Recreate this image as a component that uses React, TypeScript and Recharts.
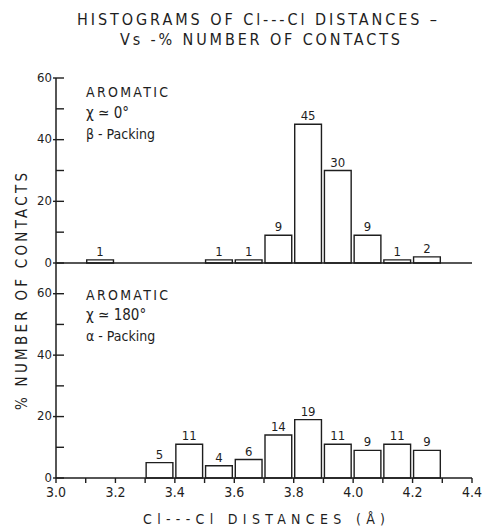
import { BarChart, Bar, XAxis, YAxis, LabelList } from "recharts";

const topBins = [3.15, 3.55, 3.65, 3.75, 3.85, 3.95, 4.05, 4.15, 4.25];
const topPercent = [1, 1, 1, 9, 45, 30, 9, 1, 2];

const bottomBins = [3.35, 3.45, 3.55, 3.65, 3.75, 3.85, 3.95, 4.05, 4.15, 4.25];
const bottomPercent = [5, 11, 4, 6, 14, 19, 11, 9, 11, 9];

const distanceTicks = [3.0, 3.1, 3.2, 3.3, 3.4, 3.5, 3.6, 3.7, 3.8, 3.9, 4.0, 4.1, 4.2, 4.3, 4.4];
const percentTicks = [0, 10, 20, 30, 40, 50, 60];
const percentLabels = [0, 20, 40, 60];

const topData = topBins.map((x, i) => ({ x, pct: topPercent[i] }));
const bottomData = bottomBins.map((x, i) => ({ x, pct: bottomPercent[i] }));

const FONT = "'DejaVu Sans Condensed', 'DejaVu Sans', sans-serif";
const INK = "#1e1e1e";
const BAR_W = (416 * 0.1) / 1.4;

function PercentTick(props: any) {
  const { x, y, payload } = props;
  const major = percentLabels.includes(payload.value);
  return (
    <g>
      <line x1={major ? x - 3 : x} x2={x + 8} y1={y} y2={y} stroke={INK} strokeWidth={1.4} />
      {major && (
        <text x={x - 4} y={y} dy="0.28em" textAnchor="end" fontSize={13} fill={INK} fontFamily={FONT}>
          {payload.value}
        </text>
      )}
    </g>
  );
}

const distLabel = (v: number) => (Math.round(v * 10) % 2 === 0 ? v.toFixed(1) : "");

function Panel({ data, height, domainMax, showLabels, top }: any) {
  return (
    <div style={{ position: "absolute", left: 0, top }}>
      <BarChart
        width={485}
        height={height}
        data={data}
        margin={{ top: top === 0 ? 78 : 0, right: 13, bottom: showLabels ? 22 : 0, left: 0 }}
      >
        <XAxis
          dataKey="x"
          type="number"
          domain={[3.0, 4.4]}
          ticks={distanceTicks}
          interval={0}
          height={showLabels ? 29 : 7}
          tickSize={5}
          tickMargin={4}
          tick={showLabels ? { fontSize: 14, fill: INK, fontFamily: FONT } : false}
          tickFormatter={distLabel}
          stroke={INK}
          axisLine={{ stroke: INK, strokeWidth: 1.5 }}
          tickLine={{ stroke: INK, strokeWidth: 1.4 }}
        />
        {top === 0 && (
          <XAxis
            xAxisId="frame"
            orientation="top"
            type="number"
            domain={[3.0, 4.4]}
            height={0}
            tick={false}
            tickLine={false}
            axisLine={{ stroke: INK, strokeWidth: 1.5 }}
          />
        )}
        <YAxis
          type="number"
          domain={[0, domainMax]}
          ticks={percentTicks}
          interval={0}
          width={56}
          tickSize={0}
          tickMargin={0}
          tick={<PercentTick />}
          axisLine={{ stroke: INK, strokeWidth: 1.5 }}
          tickLine={false}
        />
        <YAxis
          yAxisId="frame"
          orientation="right"
          width={0}
          tick={false}
          tickLine={false}
          axisLine={{ stroke: INK, strokeWidth: 1.5 }}
        />
        <Bar dataKey="pct" barSize={BAR_W} fill="#fff" stroke={INK} strokeWidth={1.4} isAnimationActive={false}>
          <LabelList dataKey="pct" position="top" offset={4} fontSize={13} fill={INK} fontFamily={FONT} />
        </Bar>
      </BarChart>
    </div>
  );
}

export default function App() {
  const t = { fontFamily: FONT, fill: INK };
  return (
    <div style={{ position: "absolute", left: 0, top: 0, width: 485, height: 529, background: "#fff" }}>
      <Panel data={topData} height={270} domainMax={60} showLabels={false} top={0} />
      <Panel data={bottomData} height={266} domainMax={70} showLabels={true} top={263} />
      <svg width={485} height={529} style={{ position: "absolute", left: 0, top: 0, pointerEvents: "none" }}>
        <text x={77} y={25} fontSize={16} textLength={360} lengthAdjust="spacing" {...t}>
          HISTOGRAMS OF Cl---Cl  DISTANCES –
        </text>
        <text x={120} y={45} fontSize={16} textLength={280} lengthAdjust="spacing" {...t}>
          Vs -% NUMBER OF CONTACTS
        </text>

        <text x={86} y={97} fontSize={14} textLength={82} lengthAdjust="spacing" {...t}>AROMATIC</text>
        <text x={86} y={118} fontSize={15} {...t}>χ ≃ 0°</text>
        <text x={86} y={139} fontSize={14} {...t}>β - Packing</text>

        <text x={86} y={300} fontSize={14} textLength={82} lengthAdjust="spacing" {...t}>AROMATIC</text>
        <text x={86} y={320} fontSize={15} {...t}>χ ≃ 180°</text>
        <text x={86} y={341} fontSize={14} {...t}>α - Packing</text>

        <text
          x={0}
          y={0}
          transform="translate(27, 410) rotate(-90)"
          fontSize={15}
          textLength={237}
          lengthAdjust="spacing"
          {...t}
        >
          % NUMBER OF CONTACTS
        </text>
        <text x={143} y={524} fontSize={14} textLength={242} lengthAdjust="spacing" {...t}>
          Cl---Cl  DISTANCES  (Å)
        </text>
      </svg>
    </div>
  );
}
